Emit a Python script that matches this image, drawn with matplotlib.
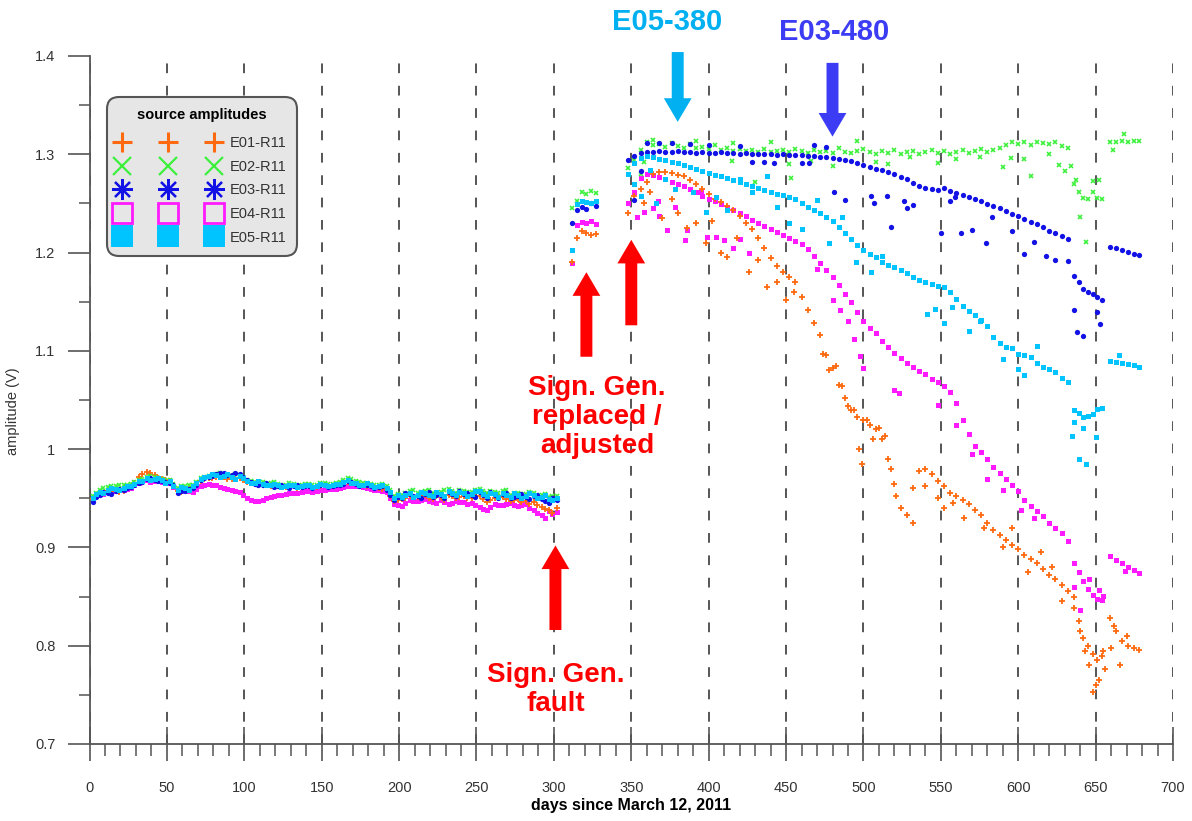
import numpy as np
import matplotlib
matplotlib.use("Agg")
import matplotlib.pyplot as plt
from matplotlib.lines import Line2D
from matplotlib.legend_handler import HandlerTuple
from matplotlib.ticker import FuncFormatter, MultipleLocator

plt.rcParams["font.family"] = ["Liberation Sans", "DejaVu Sans"]

# measurement days per segment (shared by all five sources)
days_p1 = [2, 7, 12, 17, 22, 27, 32, 37, 42, 47,
           52, 57, 62, 67, 72, 77, 82, 87, 92, 97,
           102, 107, 112, 117, 122, 127, 132, 137, 142, 147,
           152, 157, 162, 167, 172, 177, 182, 187, 192, 197,
           202, 207, 212, 217, 222, 227, 232, 237, 242, 247,
           252, 257, 262, 267, 272, 277, 282, 287, 292, 297,
           302]
days_p1b = [4, 9, 14, 19, 24, 29, 34, 39, 44, 49,
            54, 59, 64, 69, 74, 79, 84, 89, 94, 99,
            104, 109, 114, 119, 124, 129, 134, 139, 144, 149,
            154, 159, 164, 169, 174, 179, 184, 189, 194, 199,
            204, 209, 214, 219, 224, 229, 234, 239, 244, 249,
            254, 259, 264, 269, 274, 279, 284, 289, 294, 299]
days_p2 = [312, 315, 318, 321, 324, 327]
days_p3 = [348, 352, 356, 360, 364, 368, 372, 376, 380,
           384, 388, 392, 396, 400, 404, 408, 412, 416,
           420, 424, 428, 432, 436, 440, 444, 448, 452,
           456, 460, 464, 468, 472, 476, 480, 484, 488,
           492, 496, 500, 504, 508, 512, 516, 520, 524,
           528, 532, 536, 540, 544, 548, 552, 556, 560,
           564, 568, 572, 576, 580, 584, 588, 592, 596,
           600, 604, 608, 612, 616, 620, 624, 628, 632]
days_p4 = [636, 639, 642, 645, 648, 651, 654]
days_p5 = [659, 663, 667, 671, 675, 678]

# E01-R11
e01_p1 = [0.949, 0.953, 0.957, 0.958, 0.957, 0.962, 0.972, 0.977, 0.974, 0.970,
          0.968, 0.957, 0.958, 0.960, 0.968, 0.971, 0.972, 0.972, 0.970, 0.971,
          0.967, 0.965, 0.964, 0.962, 0.962, 0.961, 0.962, 0.961, 0.962, 0.961,
          0.963, 0.962, 0.964, 0.967, 0.965, 0.963, 0.962, 0.960, 0.958, 0.947,
          0.949, 0.952, 0.951, 0.953, 0.949, 0.951, 0.953, 0.950, 0.952, 0.950,
          0.952, 0.946, 0.950, 0.951, 0.947, 0.949, 0.947, 0.946, 0.941, 0.938,
          0.940]
e01_p1b = [0.951, 0.955, 0.957, 0.956, 0.960, 0.966, 0.975, 0.976, 0.971, 0.969,
           0.963, 0.956, 0.959, 0.964, 0.970, 0.971, 0.973, 0.970, 0.971, 0.969,
           0.966, 0.964, 0.963, 0.962, 0.961, 0.962, 0.960, 0.962, 0.961, 0.962,
           0.962, 0.963, 0.966, 0.966, 0.964, 0.962, 0.961, 0.959, 0.952, 0.948,
           0.950, 0.951, 0.952, 0.950, 0.952, 0.948, 0.952, 0.951, 0.950, 0.951,
           0.949, 0.948, 0.951, 0.949, 0.948, 0.946, 0.944, 0.943, 0.939, 0.935]
e01_p2 = [1.190, 1.215, 1.222, 1.220, 1.218, 1.219]
e01_p3 = [1.240, 1.258, 1.265, 1.272, 1.280, 1.282, 1.282, 1.281, 1.279,
          1.278, 1.274, 1.270, 1.265, 1.260, 1.255, 1.251, 1.247, 1.243,
          1.237, 1.230, 1.224, 1.215, 1.205, 1.194, 1.186, 1.180, 1.175,
          1.170, 1.155, 1.142, 1.128, 1.116, 1.096, 1.083, 1.065, 1.052,
          1.040, 1.033, 1.030, 1.025, 1.020, 1.010, 0.990, 0.965, 0.940,
          0.933, 0.925, 0.978, 0.980, 0.975, 0.968, 0.962, 0.955, 0.952,
          0.948, 0.944, 0.938, 0.933, 0.925, 0.918, 0.913, 0.908, 0.902,
          0.898, 0.892, 0.888, 0.884, 0.878, 0.872, 0.868, 0.862, 0.856]
e01_p4 = [0.838, 0.825, 0.808, 0.800, 0.792, 0.785, 0.790]
e01_p5 = [0.828, 0.815, 0.805, 0.800, 0.798, 0.796]
e01_xd = [358, 362, 370, 376, 380, 386, 392, 398, 402, 408, 412, 418, 426, 432,
          438, 444, 450, 455, 474, 478, 482, 486, 490, 494, 497, 499, 502, 506,
          510, 514, 518, 521, 532, 540, 548, 552, 558, 565, 578, 590, 596, 606,
          615, 622, 628, 636, 640, 643, 646, 648, 650, 652, 655, 656, 660, 662,
          666, 670]
e01_xv = [1.250, 1.262, 1.235, 1.255, 1.240, 1.225, 1.230, 1.210, 1.232, 1.200,
          1.195, 1.215, 1.180, 1.192, 1.165, 1.170, 1.152, 1.160, 1.097, 1.081,
          1.085, 1.064, 1.044, 1.040, 1.000, 0.985, 1.030, 1.010, 1.022, 1.013,
          0.980, 0.952, 0.960, 0.962, 0.950, 0.940, 0.945, 0.930, 0.920, 0.900,
          0.920, 0.875, 0.895, 0.880, 0.845, 0.850, 0.815, 0.795, 0.780, 0.753,
          0.760, 0.765, 0.795, 0.776, 0.798, 0.820, 0.780, 0.810]

# E02-R11
e02_p1 = [0.952, 0.958, 0.961, 0.962, 0.963, 0.965, 0.969, 0.972, 0.972, 0.970,
          0.969, 0.960, 0.962, 0.963, 0.971, 0.973, 0.975, 0.974, 0.973, 0.974,
          0.969, 0.967, 0.967, 0.966, 0.965, 0.964, 0.965, 0.964, 0.965, 0.964,
          0.966, 0.965, 0.967, 0.971, 0.968, 0.966, 0.965, 0.964, 0.962, 0.952,
          0.953, 0.957, 0.955, 0.957, 0.955, 0.956, 0.959, 0.955, 0.957, 0.956,
          0.959, 0.955, 0.956, 0.957, 0.953, 0.955, 0.954, 0.955, 0.953, 0.951,
          0.952]
e02_p1b = [0.955, 0.960, 0.962, 0.964, 0.964, 0.967, 0.970, 0.973, 0.971, 0.969,
           0.965, 0.962, 0.963, 0.967, 0.972, 0.974, 0.976, 0.973, 0.975, 0.972,
           0.968, 0.967, 0.965, 0.967, 0.964, 0.966, 0.963, 0.965, 0.964, 0.966,
           0.965, 0.966, 0.969, 0.970, 0.967, 0.966, 0.964, 0.965, 0.958, 0.954,
           0.955, 0.958, 0.956, 0.958, 0.954, 0.958, 0.957, 0.958, 0.956, 0.958,
           0.957, 0.957, 0.955, 0.958, 0.955, 0.954, 0.956, 0.953, 0.954, 0.952]
e02_p2 = [1.245, 1.252, 1.262, 1.260, 1.263, 1.261]
e02_p3 = [1.286, 1.294, 1.304, 1.312, 1.309, 1.310, 1.307, 1.311, 1.308,
          1.306, 1.310, 1.306, 1.307, 1.305, 1.309, 1.304, 1.306, 1.303,
          1.305, 1.303, 1.304, 1.302, 1.305, 1.302, 1.303, 1.304, 1.302,
          1.305, 1.303, 1.301, 1.304, 1.302, 1.303, 1.301, 1.306, 1.302,
          1.301, 1.303, 1.305, 1.302, 1.300, 1.303, 1.301, 1.304, 1.300,
          1.302, 1.303, 1.300, 1.302, 1.304, 1.301, 1.303, 1.300, 1.302,
          1.304, 1.301, 1.303, 1.305, 1.302, 1.304, 1.306, 1.309, 1.313,
          1.310, 1.312, 1.309, 1.313, 1.311, 1.310, 1.313, 1.308, 1.306]
e02_p4 = [1.270, 1.262, 1.256, 1.255, 1.262, 1.256, 1.255]
e02_p5 = [1.313, 1.313, 1.314, 1.313, 1.314, 1.314]
e02_xd = [356, 358, 364, 392, 415, 416, 430, 440, 452, 453, 466, 480, 496, 508,
          516, 530, 548, 560, 575, 590, 595, 604, 608, 620, 626, 630, 634, 637,
          640, 644, 648, 652, 661, 668]
e02_xv = [1.280, 1.292, 1.315, 1.314, 1.293, 1.311, 1.272, 1.312, 1.290, 1.276,
          1.293, 1.288, 1.314, 1.292, 1.290, 1.297, 1.291, 1.295, 1.297, 1.287,
          1.296, 1.295, 1.278, 1.300, 1.289, 1.283, 1.288, 1.274, 1.236, 1.211,
          1.273, 1.274, 1.304, 1.321]

# E03-R11
e03_p1 = [0.946, 0.953, 0.955, 0.957, 0.958, 0.961, 0.966, 0.970, 0.969, 0.968,
          0.966, 0.955, 0.957, 0.960, 0.969, 0.972, 0.975, 0.976, 0.974, 0.975,
          0.969, 0.965, 0.964, 0.963, 0.962, 0.962, 0.962, 0.961, 0.962, 0.962,
          0.963, 0.962, 0.964, 0.968, 0.965, 0.963, 0.962, 0.961, 0.958, 0.948,
          0.950, 0.954, 0.952, 0.954, 0.951, 0.953, 0.956, 0.952, 0.954, 0.953,
          0.956, 0.950, 0.953, 0.954, 0.950, 0.952, 0.951, 0.952, 0.949, 0.945,
          0.948]
e03_p1b = [0.951, 0.956, 0.954, 0.959, 0.960, 0.963, 0.967, 0.971, 0.968, 0.967,
           0.963, 0.957, 0.959, 0.964, 0.971, 0.973, 0.976, 0.974, 0.976, 0.972,
           0.967, 0.964, 0.966, 0.961, 0.963, 0.960, 0.963, 0.962, 0.960, 0.963,
           0.961, 0.964, 0.965, 0.967, 0.962, 0.964, 0.960, 0.962, 0.953, 0.951,
           0.955, 0.952, 0.950, 0.956, 0.953, 0.950, 0.954, 0.957, 0.955, 0.951,
           0.953, 0.956, 0.950, 0.955, 0.951, 0.954, 0.949, 0.953, 0.947, 0.950]
e03_p2 = [1.230, 1.243, 1.246, 1.244, 1.250, 1.247]
e03_p3 = [1.294, 1.298, 1.301, 1.302, 1.302, 1.303, 1.302, 1.302, 1.303,
          1.302, 1.302, 1.301, 1.302, 1.301, 1.301, 1.302, 1.301, 1.301,
          1.300, 1.301, 1.300, 1.300, 1.300, 1.300, 1.299, 1.300, 1.299,
          1.299, 1.299, 1.298, 1.298, 1.297, 1.297, 1.296, 1.295, 1.294,
          1.293, 1.291, 1.289, 1.287, 1.285, 1.284, 1.282, 1.280, 1.277,
          1.275, 1.271, 1.268, 1.266, 1.265, 1.264, 1.266, 1.263, 1.261,
          1.259, 1.257, 1.255, 1.252, 1.249, 1.247, 1.245, 1.242, 1.239,
          1.237, 1.234, 1.231, 1.229, 1.226, 1.222, 1.220, 1.217, 1.214]
e03_p4 = [1.176, 1.170, 1.163, 1.160, 1.158, 1.155, 1.152]
e03_p5 = [1.206, 1.205, 1.203, 1.201, 1.199, 1.198]
e03_xd = [352, 356, 360, 368, 376, 388, 400, 420, 428, 436, 442, 460, 465, 468,
          476, 481, 488, 505, 507, 515, 518, 526, 528, 532, 550, 556, 559, 563,
          570, 579, 583, 596, 604, 610, 618, 624, 632, 636, 638, 642, 651, 653]
e03_xv = [1.253, 1.283, 1.311, 1.311, 1.311, 1.310, 1.309, 1.308, 1.292, 1.292,
          1.291, 1.291, 1.291, 1.309, 1.307, 1.262, 1.253, 1.258, 1.250, 1.258,
          1.226, 1.252, 1.245, 1.248, 1.220, 1.252, 1.257, 1.220, 1.223, 1.210,
          1.236, 1.222, 1.199, 1.211, 1.196, 1.192, 1.191, 1.142, 1.119, 1.115,
          1.140, 1.127]

# E04-R11
e04_p1 = [0.948, 0.955, 0.956, 0.957, 0.958, 0.960, 0.966, 0.969, 0.968, 0.967,
          0.966, 0.956, 0.958, 0.956, 0.962, 0.965, 0.963, 0.960, 0.958, 0.956,
          0.950, 0.947, 0.948, 0.951, 0.953, 0.954, 0.955, 0.956, 0.957, 0.957,
          0.958, 0.959, 0.960, 0.962, 0.962, 0.961, 0.959, 0.958, 0.956, 0.944,
          0.942, 0.948, 0.947, 0.949, 0.946, 0.948, 0.944, 0.947, 0.946, 0.945,
          0.941, 0.938, 0.944, 0.943, 0.945, 0.942, 0.944, 0.938, 0.933, 0.937,
          0.936]
e04_p1b = [0.952, 0.954, 0.957, 0.958, 0.959, 0.963, 0.968, 0.967, 0.968, 0.966,
           0.961, 0.957, 0.957, 0.959, 0.964, 0.964, 0.961, 0.959, 0.957, 0.953,
           0.948, 0.947, 0.950, 0.952, 0.953, 0.955, 0.955, 0.957, 0.956, 0.958,
           0.959, 0.959, 0.961, 0.962, 0.962, 0.960, 0.958, 0.957, 0.950, 0.943,
           0.945, 0.947, 0.948, 0.947, 0.945, 0.946, 0.945, 0.946, 0.944, 0.943,
           0.939, 0.941, 0.943, 0.944, 0.943, 0.943, 0.940, 0.935, 0.930, 0.934]
e04_p2 = [1.189, 1.228, 1.231, 1.230, 1.232, 1.229]
e04_p3 = [1.250, 1.262, 1.276, 1.280, 1.279, 1.277, 1.275, 1.272, 1.270,
          1.268, 1.265, 1.262, 1.258, 1.255, 1.252, 1.249, 1.246, 1.243,
          1.240, 1.237, 1.233, 1.230, 1.227, 1.224, 1.221, 1.218, 1.215,
          1.212, 1.209, 1.204, 1.196, 1.189, 1.182, 1.175, 1.167, 1.158,
          1.150, 1.140, 1.130, 1.123, 1.118, 1.110, 1.104, 1.098, 1.093,
          1.088, 1.084, 1.080, 1.076, 1.071, 1.068, 1.064, 1.058, 1.047,
          1.030, 1.015, 1.003, 0.997, 0.990, 0.982, 0.976, 0.970, 0.964,
          0.957, 0.948, 0.942, 0.937, 0.932, 0.925, 0.920, 0.915, 0.907]
e04_p4 = [0.884, 0.875, 0.866, 0.858, 0.852, 0.848, 0.846]
e04_p5 = [0.891, 0.887, 0.884, 0.880, 0.877, 0.874]
e04_xd = [354, 358, 364, 367, 368, 373, 378, 385, 386, 395, 399, 405, 410, 416,
          420, 426, 470, 480, 485, 490, 494, 498, 500, 520, 523, 548, 560, 570,
          580, 590, 602, 610, 636, 640, 646, 652, 655, 669]
e04_xv = [1.236, 1.241, 1.245, 1.252, 1.237, 1.223, 1.246, 1.213, 1.223, 1.262,
          1.216, 1.216, 1.213, 1.205, 1.214, 1.200, 1.183, 1.152, 1.142, 1.130,
          1.112, 1.095, 1.083, 1.060, 1.057, 1.045, 1.025, 0.995, 0.970, 0.958,
          0.938, 0.930, 0.860, 0.836, 0.868, 0.857, 0.851, 0.876]

# E05-R11
e05_p1 = [0.950, 0.956, 0.958, 0.959, 0.960, 0.962, 0.968, 0.971, 0.970, 0.969,
          0.968, 0.958, 0.960, 0.962, 0.970, 0.973, 0.974, 0.973, 0.972, 0.973,
          0.968, 0.966, 0.965, 0.964, 0.963, 0.962, 0.963, 0.962, 0.963, 0.962,
          0.964, 0.963, 0.965, 0.969, 0.966, 0.964, 0.963, 0.962, 0.960, 0.950,
          0.951, 0.955, 0.953, 0.955, 0.952, 0.954, 0.957, 0.953, 0.955, 0.954,
          0.957, 0.952, 0.954, 0.955, 0.951, 0.953, 0.952, 0.953, 0.951, 0.949,
          0.950]
e05_p1b = [0.954, 0.955, 0.960, 0.958, 0.962, 0.965, 0.968, 0.969, 0.971, 0.966,
           0.962, 0.961, 0.958, 0.966, 0.972, 0.975, 0.972, 0.975, 0.970, 0.971,
           0.966, 0.968, 0.963, 0.965, 0.961, 0.964, 0.961, 0.964, 0.961, 0.965,
           0.962, 0.965, 0.967, 0.966, 0.964, 0.966, 0.961, 0.963, 0.956, 0.953,
           0.953, 0.951, 0.956, 0.953, 0.956, 0.952, 0.955, 0.956, 0.952, 0.957,
           0.954, 0.955, 0.951, 0.953, 0.955, 0.950, 0.955, 0.950, 0.953, 0.948]
e05_p2 = [1.203, 1.249, 1.252, 1.251, 1.250, 1.252]
e05_p3 = [1.280, 1.291, 1.296, 1.298, 1.297, 1.295, 1.294, 1.292, 1.291,
          1.289, 1.287, 1.285, 1.283, 1.281, 1.279, 1.278, 1.276, 1.274,
          1.272, 1.270, 1.268, 1.266, 1.264, 1.262, 1.260, 1.259, 1.257,
          1.254, 1.250, 1.246, 1.243, 1.240, 1.236, 1.232, 1.226, 1.220,
          1.214, 1.208, 1.203, 1.199, 1.195, 1.190, 1.187, 1.185, 1.182,
          1.179, 1.175, 1.172, 1.170, 1.168, 1.166, 1.165, 1.160, 1.153,
          1.146, 1.141, 1.136, 1.131, 1.125, 1.114, 1.108, 1.104, 1.103,
          1.097, 1.096, 1.094, 1.088, 1.084, 1.082, 1.078, 1.072, 1.068]
e05_p4 = [1.040, 1.037, 1.033, 1.034, 1.036, 1.041, 1.042]
e05_p5 = [1.090, 1.089, 1.088, 1.087, 1.086, 1.084]
e05_xd = [352, 356, 362, 366, 372, 378, 390, 398, 405, 412, 420, 428, 438, 444,
          452, 460, 470, 478, 486, 495, 505, 512, 541, 546, 552, 557, 568, 575,
          590, 600, 604, 612, 635, 636, 639, 642, 644, 650, 665]
e05_xv = [1.270, 1.258, 1.284, 1.250, 1.275, 1.265, 1.262, 1.241, 1.257, 1.243,
          1.275, 1.262, 1.278, 1.246, 1.230, 1.224, 1.253, 1.210, 1.236, 1.190,
          1.180, 1.196, 1.138, 1.143, 1.128, 1.145, 1.120, 1.130, 1.092, 1.082,
          1.075, 1.105, 1.013, 1.028, 0.990, 1.021, 0.985, 1.012, 1.096]

labels = ["E01-R11", "E02-R11", "E03-R11", "E04-R11", "E05-R11"]
colors = ["#ff6a10", "#3cf03c", "#1212e6", "#ff1aff", "#00c4ff"]


def series(p1, p1b, p2, p3, p4, p5, xd, xv):
    d = np.concatenate([days_p1, days_p1b, days_p2, days_p3, days_p4, days_p5, xd])
    v = np.concatenate([p1, p1b, p2, p3, p4, p5, xv])
    return d, v


data = {
    "E01-R11": series(e01_p1, e01_p1b, e01_p2, e01_p3, e01_p4, e01_p5, e01_xd, e01_xv),
    "E02-R11": series(e02_p1, e02_p1b, e02_p2, e02_p3, e02_p4, e02_p5, e02_xd, e02_xv),
    "E03-R11": series(e03_p1, e03_p1b, e03_p2, e03_p3, e03_p4, e03_p5, e03_xd, e03_xv),
    "E04-R11": series(e04_p1, e04_p1b, e04_p2, e04_p3, e04_p4, e04_p5, e04_xd, e04_xv),
    "E05-R11": series(e05_p1, e05_p1b, e05_p2, e05_p3, e05_p4, e05_p5, e05_xd, e05_xv),
}
styles = {
    "E01-R11": dict(marker="+", ms=4, mew=1.3),
    "E02-R11": dict(marker="x", ms=3.2, mew=1.2),
    "E03-R11": dict(marker="o", ms=3.8, mew=0),
    "E04-R11": dict(marker="s", ms=3.6, mew=0),
    "E05-R11": dict(marker="s", ms=3.6, mew=0),
}
draw_order = ["E04-R11", "E01-R11", "E02-R11", "E03-R11", "E05-R11"]

fig = plt.figure(figsize=(11.92, 8.21), dpi=100)
ax = fig.add_axes([0.0751, 0.0938, 0.909, 0.838])

for name in draw_order:
    d, v = data[name]
    c = colors[labels.index(name)]
    ax.plot(d, v, ls="none", color=c, zorder=3, **styles[name])

ax.set_xlim(0, 700)
ax.set_ylim(0.7, 1.4)
ax.xaxis.set_major_locator(MultipleLocator(50))
ax.xaxis.set_minor_locator(MultipleLocator(10))
ax.yaxis.set_major_locator(MultipleLocator(0.1))
ax.yaxis.set_minor_locator(MultipleLocator(0.05))
ax.yaxis.set_major_formatter(FuncFormatter(lambda v, _: f"{round(v, 2):g}"))

# dashed verticals on every 50 days
ax.grid(axis="x", which="major", color="#555555", lw=1.4, ls=(0, (5, 6.5)), zorder=1)
ax.set_axisbelow(True)

for s in ("top", "right"):
    ax.spines[s].set_visible(False)
for s in ("left", "bottom"):
    ax.spines[s].set_color("#555555")
    ax.spines[s].set_linewidth(1.3)

ax.tick_params(axis="x", which="major", direction="inout", length=24, width=1.2,
               color="#555555", pad=15, labelsize=10.5, labelcolor="#333333")
ax.tick_params(axis="x", which="minor", direction="out", length=8.5, width=1.1,
               color="#555555")
ax.tick_params(axis="y", which="major", direction="out", length=16, width=1.2,
               color="#555555", pad=8.5, labelsize=10.5, labelcolor="#333333")
ax.tick_params(axis="y", which="minor", direction="out", length=8, width=1.1,
               color="#555555")

ax.set_xlabel("days since March 12, 2011", fontsize=11.5, fontweight="bold")
ax.xaxis.set_label_coords(0.5, -0.079)
ax.set_ylabel("amplitude (V)", fontsize=10.5, color="#333333")
ax.yaxis.set_label_coords(-0.064, 0.483)

# legend: three markers per entry
handles = [
    Line2D([], [], ls="none", marker="+", ms=15, mew=2.2, color=colors[0]),
    Line2D([], [], ls="none", marker="x", ms=13, mew=1.6, color=colors[1]),
    (Line2D([], [], ls="none", marker=(8, 2, 0), ms=15, mew=1.6, color=colors[2]),
     Line2D([], [], ls="none", marker="o", ms=4, color=colors[2])),
    Line2D([], [], ls="none", marker="s", ms=14, mfc="none", mec=colors[3], mew=2),
    Line2D([], [], ls="none", marker="s", ms=16, color=colors[4], mew=0),
]
leg = ax.legend(handles, labels, numpoints=3, handlelength=6.9,
                handler_map={tuple: HandlerTuple(ndivide=1)},
                title="source amplitudes",
                title_fontproperties={"weight": "bold", "size": 10.5},
                loc="upper left", bbox_to_anchor=(0.016, 0.94), borderaxespad=0,
                frameon=True, fancybox=True, facecolor="#e6e6e6",
                edgecolor="#555555", framealpha=1, fontsize=10.5,
                labelspacing=0.66, handletextpad=0.75, borderpad=0.75)
leg._legend_box.sep = 10
leg.get_frame().set_linewidth(1.5)
leg.get_frame().set_boxstyle("round,pad=0,rounding_size=0.8")
for t in leg.get_texts():
    t.set_color("#333333")
leg.set_zorder(5)


def arrow(x, y_tail, y_tip, color, shaft=8.6, head_w=20, head_l=17):
    style = f"simple,head_length={head_l},head_width={head_w},tail_width={shaft}"
    ax.annotate("", xy=(x, y_tip), xytext=(x, y_tail), annotation_clip=False,
                arrowprops=dict(arrowstyle=style, color=color, lw=0,
                                shrinkA=0, shrinkB=0, mutation_scale=1))


cyan_note = "#00b0f0"
blue_note = "#3c3cf5"
red_note = "#ff0000"

arrow(380, 1.404, 1.333, cyan_note)
arrow(480, 1.393, 1.318, blue_note)
arrow(301, 0.816, 0.902, red_note)
arrow(321, 1.094, 1.180, red_note)
arrow(350, 1.126, 1.213, red_note)

ax.text(373, 1.435, "E05-380", color=cyan_note, fontsize=21, fontweight="bold",
        ha="center", va="center", clip_on=False)
ax.text(481, 1.424, "E03-480", color=blue_note, fontsize=21, fontweight="bold",
        ha="center", va="center", clip_on=False)
ax.text(301, 0.755, "Sign. Gen.\nfault", color=red_note, fontsize=20,
        fontweight="bold", ha="center", va="center", linespacing=1.15)
ax.text(328, 1.033, "Sign. Gen.\nreplaced /\nadjusted", color=red_note,
        fontsize=20, fontweight="bold", ha="center", va="center", linespacing=1.15)

fig.savefig("out.png", dpi=100)
